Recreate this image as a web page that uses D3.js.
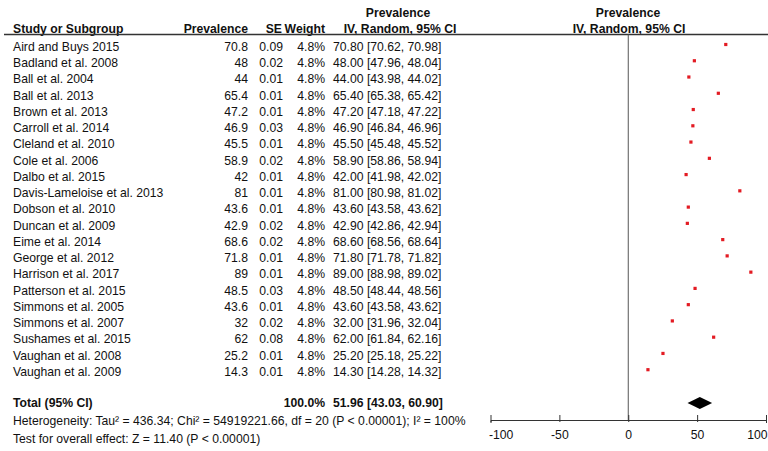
<!DOCTYPE html>
<html>
<head>
<meta charset="utf-8">
<script src="https://cdn.jsdelivr.net/npm/d3@7"></script>
<style>
  body { margin: 0; background: #fff; }
  svg text { font-family: "Liberation Sans", Arial, Helvetica, sans-serif; font-size: 12.2px; fill: #111; }
</style>
</head>
<body>
<div id="canvas" style="width:768px;height:451px"></div>
<script>
var studies = ['Aird and Buys 2015', 'Badland et al. 2008', 'Ball et al. 2004', 'Ball et al. 2013',
  'Brown et al. 2013', 'Carroll et al. 2014', 'Cleland et al. 2010', 'Cole et al. 2006',
  'Dalbo et al. 2015', 'Davis-Lameloise et al. 2013', 'Dobson et al. 2010', 'Duncan et al. 2009',
  'Eime et al. 2014', 'George et al. 2012', 'Harrison et al. 2017', 'Patterson et al. 2015',
  'Simmons et al. 2005', 'Simmons et al. 2007', 'Sushames et al. 2015', 'Vaughan et al. 2008',
  'Vaughan et al. 2009'];
var prevalence = [70.8, 48, 44, 65.4, 47.2, 46.9, 45.5, 58.9, 42, 81, 43.6, 42.9, 68.6, 71.8, 89, 48.5, 43.6, 32, 62, 25.2, 14.3];
var se = [0.09, 0.02, 0.01, 0.01, 0.01, 0.03, 0.01, 0.02, 0.01, 0.01, 0.01, 0.02, 0.02, 0.01, 0.01, 0.03, 0.01, 0.02, 0.08, 0.01, 0.01];
var weight = [4.8, 4.8, 4.8, 4.8, 4.8, 4.8, 4.8, 4.8, 4.8, 4.8, 4.8, 4.8, 4.8, 4.8, 4.8, 4.8, 4.8, 4.8, 4.8, 4.8, 4.8];
var ciLow = [70.62, 47.96, 43.98, 65.38, 47.18, 46.84, 45.48, 58.86, 41.98, 80.98, 43.58, 42.86, 68.56, 71.78, 88.98, 48.44, 43.58, 31.96, 61.84, 25.18, 14.28];
var ciHigh = [70.98, 48.04, 44.02, 65.42, 47.22, 46.96, 45.52, 58.94, 42.02, 81.02, 43.62, 42.94, 68.64, 71.82, 89.02, 48.56, 43.62, 32.04, 62.16, 25.22, 14.32];
var total = {est: 51.96, lo: 43.03, hi: 60.90, weight: 100.0};
var axisTicks = [-100, -50, 0, 50, 100];

var canvasWidth = 768, canvasHeight = 451;

var svg = d3.select('#canvas')
  .append('svg')
  .attr('width', canvasWidth)
  .attr('height', canvasHeight);

var x = d3.scaleLinear().domain([-100, 100]).range([490.5, 766]);
var y = d3.scaleLinear().domain([0, studies.length - 1]).range([46.5, 371.7]);
var totalY = 403;
var axisY = 420;

// column positions
var colName = 13, colPrev = 248, colSE = 283, colW = 325, colCI = 333;

// header
var hdr = svg.append('g');
function bold(xx, yy, anchor, t) {
  hdr.append('text').attr('x', xx).attr('y', yy).attr('text-anchor', anchor)
    .style('font-weight', 'bold').text(t);
}
bold(398, 17, 'middle', 'Prevalence');
bold(628, 17, 'middle', 'Prevalence');
bold(colName, 32.5, 'start', 'Study or Subgroup');
bold(colPrev, 32.5, 'end', 'Prevalence');
bold(colSE - 1, 32.5, 'end', 'SE');
bold(colW, 32.5, 'end', 'Weight');
bold(400, 32.5, 'middle', 'IV, Random, 95% CI');
bold(629, 32.5, 'middle', 'IV, Random, 95% CI');

svg.append('line')
  .attr('x1', 4).attr('x2', 768)
  .attr('y1', 34.5).attr('y2', 34.5)
  .style('stroke', '#333').style('stroke-width', 1.3);

// zero line
svg.append('line')
  .attr('x1', x(0)).attr('x2', x(0))
  .attr('y1', 34.5).attr('y2', axisY)
  .style('stroke', '#555').style('stroke-width', 1);

// study rows
var rows = svg.selectAll('g.row')
  .data(studies)
  .enter()
  .append('g')
  .attr('class', 'row')
  .attr('transform', function(d, i) { return 'translate(0,' + (y(i) + 4.3) + ')'; });

rows.append('text').attr('x', colName).text(function(d) { return d; });
rows.append('text').attr('x', colPrev).attr('text-anchor', 'end').text(function(d, i) { return prevalence[i]; });
rows.append('text').attr('x', colSE).attr('text-anchor', 'end').text(function(d, i) { return se[i].toFixed(2); });
rows.append('text').attr('x', colW).attr('text-anchor', 'end').text(function(d, i) { return weight[i].toFixed(1) + '%'; });
rows.append('text').attr('x', colCI).text(function(d, i) {
  return prevalence[i].toFixed(2) + ' [' + ciLow[i].toFixed(2) + ', ' + ciHigh[i].toFixed(2) + ']';
});

// point estimates
svg.selectAll('rect.pt')
  .data(prevalence)
  .enter()
  .append('rect')
  .attr('class', 'pt')
  .attr('x', function(d) { return x(d) - 1.6; })
  .attr('y', function(d, i) { return y(i) - 3.6; })
  .attr('width', 3.2)
  .attr('height', 3.2)
  .style('fill', '#e31b23');

// total row
var tot = svg.append('g').attr('transform', 'translate(0,' + (totalY + 4.3) + ')');
tot.append('text').attr('x', colName).style('font-weight', 'bold').text('Total (95% CI)');
tot.append('text').attr('x', colW).attr('text-anchor', 'end').style('font-weight', 'bold').text(total.weight.toFixed(1) + '%');
tot.append('text').attr('x', colCI).style('font-weight', 'bold')
  .text(total.est.toFixed(2) + ' [' + total.lo.toFixed(2) + ', ' + total.hi.toFixed(2) + ']');

svg.append('path')
  .attr('d', 'M' + x(total.lo) + ',' + totalY +
    'L' + x(total.est) + ',' + (totalY - 6) +
    'L' + x(total.hi) + ',' + totalY +
    'L' + x(total.est) + ',' + (totalY + 6) + 'Z')
  .style('fill', '#000');

svg.append('text').attr('x', colName).attr('y', 425)
  .text('Heterogeneity: Tau\u00b2 = 436.34; Chi\u00b2 = 54919221.66, df = 20 (P < 0.00001); I\u00b2 = 100%');
svg.append('text').attr('x', colName).attr('y', 443)
  .text('Test for overall effect: Z = 11.40 (P < 0.00001)');

// axis
var axis = svg.append('g')
  .attr('transform', 'translate(0,' + axisY + ')')
  .call(d3.axisBottom(x).tickValues(axisTicks).tickFormat(function(d) { return String(d); })
    .tickSizeOuter(0).tickSize(3).tickPadding(7));
axis.select('.domain').style('stroke', '#333');
axis.selectAll('.tick line').attr('y1', -5).attr('y2', 2).style('stroke', '#333');
axis.selectAll('.tick text')
  .style('font-family', '"Liberation Sans", Arial, sans-serif')
  .style('font-size', '12.2px')
  .style('fill', '#111')
  .attr('text-anchor', function(d, i) { return i === 0 ? 'start' : (i === axisTicks.length - 1 ? 'end' : 'middle'); })
  .attr('dx', function(d, i) { return i === 0 ? -2 : (i === axisTicks.length - 1 ? 1 : 0); });
</script>
</body>
</html>
